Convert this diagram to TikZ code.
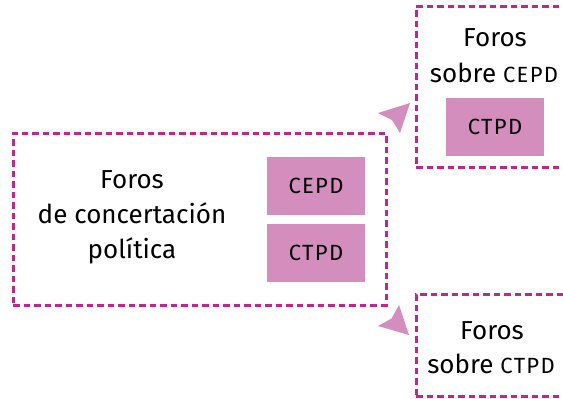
\documentclass[tikz,border=0pt]{standalone}
\usepackage{fontspec}
\setmainfont{Fira Sans}
\newfontfamily\capsf[LetterSpace=6]{Fira Sans}
\definecolor{dashcol}{HTML}{C0268E}
\definecolor{fillcol}{HTML}{D38EBD}
\newcommand{\capsize}{\capsf\fontsize{22}{26}\selectfont}
\begin{document}
\begin{tikzpicture}[x=1pt,y=-1pt,
  dashbox/.style={draw=dashcol,line width=3pt,dash pattern=on 6.5pt off 4pt,inner sep=0pt},
  pinkbox/.style={fill=fillcol,inner sep=0pt,minimum width=98pt,minimum height=58pt,font=\capsize},
  txt/.style={anchor=base,inner sep=0pt,font=\fontsize{26}{30}\selectfont},
  tip/.style={fill=fillcol,draw=none}]
\useasboundingbox (0,0) rectangle (563,399);
\clip (0,0) rectangle (563,399);
% main box
\node[dashbox,minimum width=373pt,minimum height=172pt] (main) at (199.5,219) {};
\node[txt] (m1) at (132,188) {Foros};
\node[txt] (m2) at (132,223) {de concertación};
\node[txt] (m3) at (132,258) {política};
\node[pinkbox] (cepd) at (316,186) {CEPD};
\node[pinkbox] (ctpd) at (316,253) {CTPD};
% top right box
\node[dashbox,minimum width=180pt,minimum height=161pt] (top) at (506,86.5) {};
\node[txt] (r1) at (495,46) {Foros};
\node[txt] (r2) at (494,82) {sobre {\capsize CEPD}};
\node[pinkbox] (ctpd2) at (495,127) {CTPD};
% bottom right box
\node[dashbox,minimum width=180pt,minimum height=102pt] (bot) at (506,345) {};
\node[txt] (b1) at (492,339) {Foros};
\node[txt] (b2) at (491,373) {sobre {\capsize CTPD}};
% arrowheads
\fill[tip] (410,103) -- (378,113) -- (392,120) -- (400,133) -- cycle;
\fill[tip] (409,335) -- (399,305) -- (391.5,318.5) -- (378,326) -- cycle;
\end{tikzpicture}
\end{document}
